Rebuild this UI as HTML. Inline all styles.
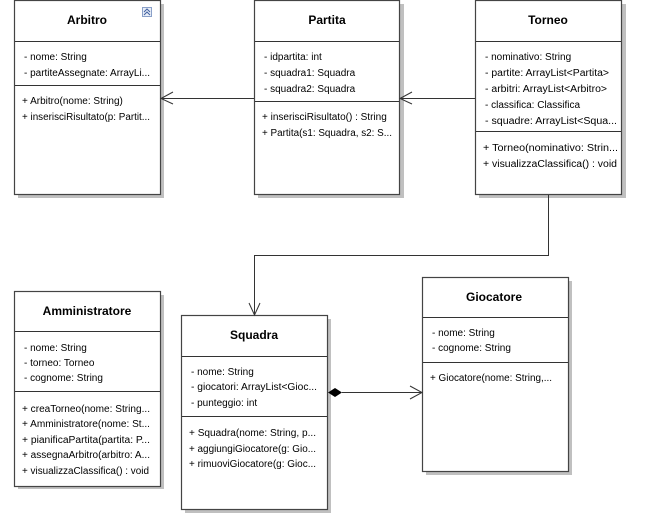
<!DOCTYPE html>
<html><head><meta charset="utf-8"><style>
html,body{margin:0;padding:0;background:#fff;}
svg{display:block;}
text{font-family:"Liberation Sans",sans-serif;font-size:10px;fill:#000;}
.t{font-size:12px;font-weight:bold;text-anchor:middle;}
</style></head><body>
<svg width="645" height="532" viewBox="0 0 645 532" xmlns="http://www.w3.org/2000/svg">
<g fill="#c0c0c0">
<rect x="18" y="4" width="146" height="194"/>
<rect x="258" y="4" width="146" height="194"/>
<rect x="479" y="4" width="147" height="194"/>
<rect x="18" y="295" width="146" height="194"/>
<rect x="185" y="319" width="146" height="194"/>
<rect x="426" y="281" width="146" height="194"/>
</g>
<g fill="#fff" stroke="#444" stroke-width="1.2">
<rect x="14.5" y="0.5" width="146" height="194"/>
<rect x="254.5" y="0.5" width="145" height="194"/>
<rect x="475.5" y="0.5" width="146" height="194"/>
<rect x="14.5" y="291.5" width="146" height="195"/>
<rect x="181.5" y="315.5" width="146" height="194"/>
<rect x="422.5" y="277.5" width="146" height="194"/>
</g>
<g stroke="#333" stroke-width="1">
<line x1="15" y1="41.5" x2="160" y2="41.5"/><line x1="15" y1="85.5" x2="160" y2="85.5"/>
<line x1="255" y1="41.5" x2="399" y2="41.5"/><line x1="255" y1="101.5" x2="399" y2="101.5"/>
<line x1="476" y1="41.5" x2="621" y2="41.5"/><line x1="476" y1="131.5" x2="621" y2="131.5"/>
<line x1="15" y1="331.5" x2="160" y2="331.5"/><line x1="15" y1="391.5" x2="160" y2="391.5"/>
<line x1="182" y1="356.5" x2="327" y2="356.5"/><line x1="182" y1="416.5" x2="327" y2="416.5"/>
<line x1="423" y1="317.5" x2="568" y2="317.5"/><line x1="423" y1="362.5" x2="568" y2="362.5"/>
</g>
<rect x="142.5" y="7.5" width="9" height="9" fill="#e8eef8" stroke="#8aa0c8"/>
<path d="M144 12 l3-3 3 3 M144 15 l3-3 3 3" fill="none" stroke="#4060a0" stroke-width="1"/>
<g fill="none" stroke="#333" stroke-width="1">
<line x1="254" y1="98.5" x2="161" y2="98.5"/><path d="M173 92 L161 98.5 L173 104"/>
<line x1="475" y1="98.5" x2="400" y2="98.5"/><path d="M412 92 L400 98.5 L412 104"/>
<path d="M548.5 195 V255.5 H254.5 V315"/><path d="M249 303 L254.5 315 L260 303"/>
<line x1="342" y1="392.5" x2="422" y2="392.5"/><path d="M410 386 L422 392.5 L410 399"/>
</g>
<path d="M328 392.5 L335 388 L342 392.5 L335 397 Z" fill="#000"/>
<text class="t" x="87" y="24">Arbitro</text>
<text x="24" y="60">- nome: String</text>
<text x="24" y="76" textLength="126" lengthAdjust="spacingAndGlyphs">- partiteAssegnate: ArrayLi...</text>
<text x="22" y="104">+ Arbitro(nome: String)</text>
<text x="22" y="120" textLength="128" lengthAdjust="spacingAndGlyphs">+ inserisciRisultato(p: Partit...</text>
<text class="t" x="327" y="24">Partita</text>
<text x="264" y="60">- idpartita: int</text>
<text x="264" y="76">- squadra1: Squadra</text>
<text x="264" y="92">- squadra2: Squadra</text>
<text x="262" y="120">+ inserisciRisultato() : String</text>
<text x="262" y="136" textLength="130" lengthAdjust="spacingAndGlyphs">+ Partita(s1: Squadra, s2: S...</text>
<text class="t" x="548" y="24">Torneo</text>
<text x="485" y="60">- nominativo: String</text>
<text x="485" y="76" textLength="124" lengthAdjust="spacingAndGlyphs">- partite: ArrayList&lt;Partita&gt;</text>
<text x="485" y="92" textLength="122" lengthAdjust="spacingAndGlyphs">- arbitri: ArrayList&lt;Arbitro&gt;</text>
<text x="485" y="108">- classifica: Classifica</text>
<text x="485" y="124" textLength="132" lengthAdjust="spacingAndGlyphs">- squadre: ArrayList&lt;Squa...</text>
<text x="483" y="151" textLength="135" lengthAdjust="spacingAndGlyphs">+ Torneo(nominativo: Strin...</text>
<text x="483" y="167" textLength="134" lengthAdjust="spacingAndGlyphs">+ visualizzaClassifica() : void</text>
<text class="t" x="87" y="315">Amministratore</text>
<text x="24" y="351">- nome: String</text>
<text x="24" y="366">- torneo: Torneo</text>
<text x="24" y="381">- cognome: String</text>
<text x="22" y="412" textLength="128" lengthAdjust="spacingAndGlyphs">+ creaTorneo(nome: String...</text>
<text x="22" y="427" textLength="128" lengthAdjust="spacingAndGlyphs">+ Amministratore(nome: St...</text>
<text x="22" y="443" textLength="128" lengthAdjust="spacingAndGlyphs">+ pianificaPartita(partita: P...</text>
<text x="22" y="458" textLength="128" lengthAdjust="spacingAndGlyphs">+ assegnaArbitro(arbitro: A...</text>
<text x="22" y="474" textLength="127" lengthAdjust="spacingAndGlyphs">+ visualizzaClassifica() : void</text>
<text class="t" x="254" y="339">Squadra</text>
<text x="191" y="375">- nome: String</text>
<text x="191" y="390" textLength="126" lengthAdjust="spacingAndGlyphs">- giocatori: ArrayList&lt;Gioc...</text>
<text x="191" y="406">- punteggio: int</text>
<text x="189" y="436" textLength="127" lengthAdjust="spacingAndGlyphs">+ Squadra(nome: String, p...</text>
<text x="189" y="452" textLength="127" lengthAdjust="spacingAndGlyphs">+ aggiungiGiocatore(g: Gio...</text>
<text x="189" y="467" textLength="127" lengthAdjust="spacingAndGlyphs">+ rimuoviGiocatore(g: Gioc...</text>
<text class="t" x="494" y="301">Giocatore</text>
<text x="432" y="336">- nome: String</text>
<text x="432" y="351">- cognome: String</text>
<text x="430" y="381" textLength="122" lengthAdjust="spacingAndGlyphs">+ Giocatore(nome: String,...</text>
</svg>
</body></html>
